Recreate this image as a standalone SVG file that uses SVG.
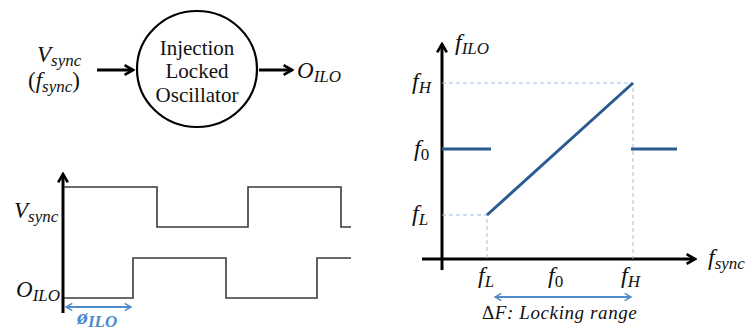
<svg xmlns="http://www.w3.org/2000/svg" width="749" height="333" viewBox="0 0 749 333">
<style>
.m{font-family:"Liberation Serif","DejaVu Serif",serif;font-style:italic;fill:#111}
.rm{font-family:"Liberation Serif","DejaVu Serif",serif;font-style:normal;fill:#111}
.ax{stroke:#000;stroke-width:3;fill:none}
.wave{stroke:#3a3a3a;stroke-width:1.6;fill:none}
.dash{stroke:#9dbde6;stroke-width:1;stroke-dasharray:4 3;fill:none}
.curve{stroke:#2b5a91;stroke-width:3;fill:none}
.blue{stroke:#4f8acb;stroke-width:1.8;fill:none}
</style>
<defs>
<marker id="ah" viewBox="0 0 10 10" refX="8" refY="5" markerWidth="4" markerHeight="4" orient="auto-start-reverse"><path d="M1,1 L8,5 L1,9" fill="none" stroke="#000" stroke-width="2.2"/></marker>
<marker id="bh" viewBox="0 0 10 10" refX="8" refY="5" markerWidth="5" markerHeight="5" orient="auto-start-reverse"><path d="M1,1 L8,5 L1,9" fill="none" stroke="#4f8acb" stroke-width="1.6"/></marker>
</defs>

<g id="ilo">
<ellipse cx="197" cy="69" rx="60" ry="58" fill="#fff" stroke="#000" stroke-width="2.2"/>
<text class="rm" font-size="21" text-anchor="middle" x="197" y="55">Injection</text>
<text class="rm" font-size="21" text-anchor="middle" x="197" y="78">Locked</text>
<text class="rm" font-size="21" text-anchor="middle" x="197" y="102">Oscillator</text>
</g>
<g id="vsync-in">
<text class="m" font-size="23" x="37" y="62">V<tspan font-size="17" dy="4">sync</tspan></text>
<text class="m" font-size="23" x="28" y="88"><tspan font-style="normal">(</tspan>f<tspan font-size="17" dy="4">sync</tspan><tspan dy="-4" font-style="normal">)</tspan></text>
</g>
<g id="oilo-out">
<text class="m" font-size="23" x="297" y="78">O<tspan font-size="17" dy="4">ILO</tspan></text>
</g>
<g id="connectors">
<line class="ax" x1="97" y1="70" x2="133" y2="70" marker-end="url(#ah)"/>
<line class="ax" x1="259" y1="70" x2="292" y2="70" marker-end="url(#ah)"/>
</g>

<g id="timing">
<line class="ax" x1="63" y1="313" x2="63" y2="174" marker-end="url(#ah)"/>
<polyline class="wave" points="64,187 157,187 157,227 248,227 248,187 341,187 341,227 351,227"/>
<polyline class="wave" points="64,298 133,298 133,258 226,258 226,298 317,298 317,258 351,258"/>
<text class="m" font-size="23" x="14" y="218">V<tspan font-size="17" dy="4">sync</tspan></text>
<text class="m" font-size="23" x="16" y="297">O<tspan font-size="17" dy="4">ILO</tspan></text>
<line class="blue" x1="66" y1="307" x2="131" y2="307" marker-start="url(#bh)" marker-end="url(#bh)"/>
<text class="m" font-size="22" font-weight="bold" x="77" y="324" style="fill:#4f8acb">ø<tspan font-size="17" dy="3">ILO</tspan></text>
</g>

<g id="freq-plot">
<line class="ax" x1="442" y1="270" x2="442" y2="44" marker-end="url(#ah)"/>
<line class="ax" x1="422" y1="259" x2="695" y2="259" marker-end="url(#ah)"/>
<path class="dash" d="M442,83 H633 V259 M442,215 H487 V259"/>
<line class="curve" x1="442" y1="149" x2="491" y2="149"/>
<line class="curve" x1="631" y1="149" x2="677" y2="149"/>
<line class="curve" x1="487" y1="215" x2="633" y2="83"/>
<text class="m" font-size="24" x="455" y="50">f<tspan font-size="17" dy="4">ILO</tspan></text>
<text class="m" font-size="24" x="412" y="89">f<tspan font-size="17" dy="4">H</tspan></text>
<text class="m" font-size="24" x="414" y="156">f<tspan font-size="17" dy="4" font-style="normal">0</tspan></text>
<text class="m" font-size="24" x="412" y="221">f<tspan font-size="17" dy="4">L</tspan></text>
<text class="m" font-size="24" x="478" y="283">f<tspan font-size="17" dy="4">L</tspan></text>
<text class="m" font-size="24" x="548" y="283">f<tspan font-size="17" dy="4" font-style="normal">0</tspan></text>
<text class="m" font-size="24" x="621" y="283">f<tspan font-size="17" dy="4">H</tspan></text>
<text class="m" font-size="24" x="708" y="265">f<tspan font-size="17" dy="4">sync</tspan></text>
<line class="blue" x1="495" y1="297" x2="631" y2="297" marker-start="url(#bh)" marker-end="url(#bh)"/>
<text class="m" font-size="19" x="482" y="319" letter-spacing="0.6"><tspan font-style="normal">Δ</tspan>F: Locking range</text>
</g>
</svg>
